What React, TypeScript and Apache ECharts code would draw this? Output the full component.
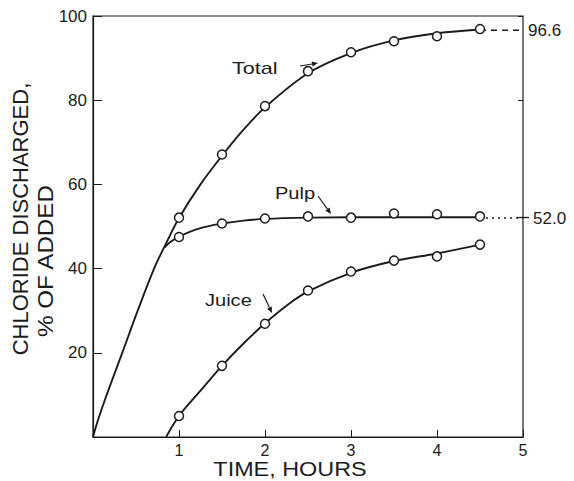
import React, { useEffect, useRef } from "react";
import * as echarts from "echarts";

// Observed points (circles)
const hours = [1, 1.5, 2, 2.5, 3, 3.5, 4, 4.5];
const totalObs = [52.1, 67.1, 78.6, 86.9, 91.4, 94.0, 95.2, 96.9];
const pulpObs = [47.5, 50.7, 51.9, 52.4, 52.1, 53.1, 52.9, 52.4];
const juiceObs = [5.0, 16.9, 26.9, 34.8, 39.3, 41.9, 42.9, 45.7];

// Fitted curves
const totalCurveX = [0, 0.05, 0.15, 0.34, 0.52, 0.71, 0.85, 1, 1.25, 1.5, 1.75, 2, 2.5, 3, 3.5, 4, 4.5];
const totalCurveY = [0, 3.5, 9.5, 20, 30, 40, 46, 52, 60, 66.8, 73, 78.3, 86.4, 91.2, 94.2, 95.9, 96.8];
const pulpCurveX = [0.83, 0.9, 1, 1.25, 1.5, 1.75, 2, 2.5, 3, 3.5, 4, 4.5];
const pulpCurveY = [45, 46.3, 47.6, 49.6, 50.7, 51.4, 51.8, 52.1, 52.2, 52.2, 52.2, 52.2];
const juiceCurveX = [0.85, 1, 1.25, 1.5, 1.75, 2, 2.25, 2.5, 3, 3.5, 4, 4.5];
const juiceCurveY = [0, 5, 11, 16.9, 22.2, 27, 31.2, 34.6, 39, 41.8, 43.6, 45.7];

// Extrapolated limits
const totalLimit = 96.6;
const pulpLimit = 52.0;
const limitX = [4.5, 5];

const INK = "#1c1c1c";
const FONT = "Liberation Sans";

const zip = (xs: number[], ys: number[]) => xs.map((x, i) => [x, ys[i]]);

function arrow(x1: number, y1: number, x2: number, y2: number) {
  const a = Math.atan2(y2 - y1, x2 - x1);
  const L = 6;
  const W = 2.6;
  const bx = x2 - L * Math.cos(a);
  const by = y2 - L * Math.sin(a);
  const px = -Math.sin(a) * W;
  const py = Math.cos(a) * W;
  return [
    { type: "line", shape: { x1, y1, x2: bx, y2: by }, style: { stroke: INK, lineWidth: 1.2 } },
    {
      type: "polygon",
      shape: { points: [[x2, y2], [bx + px, by + py], [bx - px, by - py]] },
      style: { fill: INK },
    },
  ];
}

export default function App() {
  const ref = useRef<HTMLDivElement>(null);
  useEffect(() => {
    if (!ref.current) return;
    const chart = echarts.init(ref.current, null, { renderer: "svg" });
    const circle = {
      type: "scatter",
      symbol: "circle",
      symbolSize: 9,
      itemStyle: { color: "#fff", borderColor: INK, borderWidth: 1.5, opacity: 1 },
      z: 5,
    };
    const curve = {
      type: "line",
      smooth: 0.35,
      showSymbol: false,
      symbol: "none",
      lineStyle: { color: INK, width: 1.9 },
      z: 3,
    };
    chart.setOption({
      animation: false,
      backgroundColor: "#fff",
      grid: { left: 93, right: 51, top: 16, bottom: 44, show: true, borderColor: INK, borderWidth: 1.2 },
      xAxis: {
        type: "value",
        min: 0,
        max: 5,
        interval: 1,
        axisLine: { show: true, lineStyle: { color: INK, width: 1.2 } },
        axisTick: { show: true, inside: true, length: 7, lineStyle: { color: INK } },
        axisLabel: {
          color: INK,
          fontFamily: FONT,
          fontSize: 16,
          margin: 5,
          formatter: (v: number) => (v === 0 ? "" : String(v)),
        },
        splitLine: { show: false },
      },
      yAxis: [
        {
          type: "value",
          min: 0,
          max: 100,
          interval: 20,
          axisLine: { show: true, lineStyle: { color: INK, width: 1.2 } },
          axisTick: { show: true, inside: true, length: 9, lineStyle: { color: INK } },
          axisLabel: {
            color: INK,
            fontFamily: FONT,
            fontSize: 17,
            margin: 6,
            formatter: (v: number) => (v === 0 ? "" : String(v)),
          },
          splitLine: { show: false },
        },
        {
          type: "value",
          position: "right",
          min: 0,
          max: 100,
          interval: 80,
          axisLine: { show: false },
          axisTick: { show: true, inside: true, length: 5, lineStyle: { color: INK } },
          axisLabel: { show: false },
          splitLine: { show: false },
        },
      ],
      series: [
        { ...curve, name: "Total curve", data: zip(totalCurveX, totalCurveY) },
        { ...curve, name: "Pulp curve", data: zip(pulpCurveX, pulpCurveY) },
        { ...curve, name: "Juice curve", data: zip(juiceCurveX, juiceCurveY) },
        {
          type: "line",
          name: "Total limit",
          data: limitX.map((x) => [x, totalLimit]),
          symbol: "none",
          lineStyle: { color: INK, width: 1.5, type: [6, 5] },
          endLabel: {
            show: true,
            formatter: String(totalLimit.toFixed(1)),
            color: INK,
            fontFamily: FONT,
            fontSize: 17,
            distance: 5,
          },
          z: 2,
        },
        {
          type: "line",
          name: "Pulp limit",
          data: limitX.map((x) => [x, pulpLimit]),
          symbol: "none",
          lineStyle: { color: INK, width: 1.5, type: [2, 4] },
          endLabel: {
            show: true,
            formatter: String(pulpLimit.toFixed(1)),
            color: INK,
            fontFamily: FONT,
            fontSize: 17,
            distance: 10,
          },
          z: 2,
        },
        { ...circle, name: "Total", data: zip(hours, totalObs) },
        { ...circle, name: "Pulp", data: zip(hours, pulpObs) },
        { ...circle, name: "Juice", data: zip(hours, juiceObs) },
      ],
      graphic: [
        {
          type: "text",
          x: 20.5,
          y: 219,
          rotation: Math.PI / 2,
          style: {
            text: "CHLORIDE DISCHARGED,",
            fill: INK,
            font: `22px "${FONT}"`,
            align: "center",
            verticalAlign: "middle",
          },
        },
        {
          type: "text",
          x: 45.5,
          y: 261,
          rotation: Math.PI / 2,
          scaleX: 1.1,
          style: {
            text: "% OF ADDED",
            fill: INK,
            font: `22px "${FONT}"`,
            align: "center",
            verticalAlign: "middle",
          },
        },
        {
          type: "text",
          x: 290,
          y: 469,
          scaleX: 1.17,
          style: {
            text: "TIME, HOURS",
            fill: INK,
            font: `20px "${FONT}"`,
            align: "center",
            verticalAlign: "middle",
          },
        },
        {
          type: "text",
          x: 232,
          y: 68,
          scaleX: 1.27,
          style: { text: "Total", fill: INK, font: `17px "${FONT}"`, align: "left", verticalAlign: "middle" },
        },
        {
          type: "text",
          x: 275,
          y: 193,
          scaleX: 1.18,
          style: { text: "Pulp", fill: INK, font: `17px "${FONT}"`, align: "left", verticalAlign: "middle" },
        },
        {
          type: "text",
          x: 205,
          y: 300,
          scaleX: 1.18,
          style: { text: "Juice", fill: INK, font: `17px "${FONT}"`, align: "left", verticalAlign: "middle" },
        },
        ...arrow(300, 66, 318, 63),
        ...arrow(318, 196, 331, 214),
        ...arrow(263, 294, 272, 313),
        {
          type: "line",
          shape: { x1: 517, y1: 217.5, x2: 529, y2: 217.5 },
          style: { stroke: INK, lineWidth: 1.3 },
        },
      ],
    });
    return () => chart.dispose();
  }, []);
  return <div ref={ref} style={{ position: "fixed", left: 0, top: 0, width: 574, height: 481 }} />;
}
